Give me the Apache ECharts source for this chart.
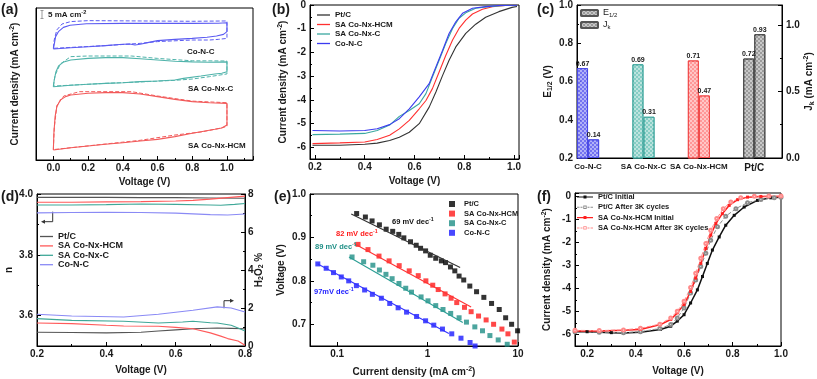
<!DOCTYPE html>
<html><head><meta charset="utf-8">
<script src="https://cdn.jsdelivr.net/npm/echarts@6.0.0/dist/echarts.min.js"></script>
<style>html,body{margin:0;padding:0;background:#fff}#c{width:817px;height:379px}</style>
</head><body><div id="c"></div>
<script>
// ---------- (a) CV loops (voltage V, offset current mA cm-2) ----------
const aCoNC = [[0,69.4],[0.006,72.9],[0.013,77.1],[0.029,80.2],[0.058,82.9],[0.096,84.2],[0.19,85.2],[0.4,85.4],[0.6,85.4],[0.8,85.4],[0.95,85.5],[1.0,85.8],[1.0,80.2],[0.996,79.6],[0.98,78.5],[0.94,77.5],[0.885,76.7],[0.8,76.0],[0.7,75.4],[0.6,74.6],[0.55,73.5],[0.5,72.3],[0.47,71.9],[0.44,72.5],[0.4,72.3],[0.3,71.5],[0.2,70.8],[0.1,70.2],[0,69.4]];
const aCoNCd = [[0,70.2],[0.005,75],[0.02,81.3],[0.05,85],[0.1,86.5],[0.2,87.1],[0.5,86.9],[0.8,86.7],[1.0,86.9],[1.0,76],[0.95,75.4],[0.9,75],[0.8,75],[0.6,74],[0.5,72.9],[0.3,71.5],[0,69.8]];
const aNxC = [[0,45.8],[0.005,50],[0.015,55.2],[0.03,58.8],[0.06,61.3],[0.1,62.5],[0.2,63.5],[0.3,64],[0.4,64],[0.5,63.3],[0.6,62.5],[0.7,61.7],[0.8,61.3],[0.9,61.1],[1.0,61.3],[1.0,55.2],[0.99,54.6],[0.97,54.2],[0.93,53.75],[0.85,52.5],[0.75,51],[0.7,50],[0.6,49.4],[0.5,49],[0.4,48.3],[0.3,47.9],[0.2,47.3],[0.1,46.7],[0,45.8]];
const aNxCd = [[0,46.2],[0.01,53],[0.04,60],[0.1,64.6],[0.2,65],[0.45,65],[0.6,63.5],[0.8,62],[1.0,61.9],[1.0,53.8],[0.9,52.1],[0.8,50.6],[0.7,49.8],[0.5,48.8],[0.3,47.9],[0,46.2]];
const aHCM = [[0,6.25],[0.003,16.7],[0.01,27.1],[0.02,33.3],[0.04,37.5],[0.07,39.6],[0.1,40.6],[0.2,41.7],[0.3,42.1],[0.4,42.1],[0.5,41.25],[0.6,39.6],[0.7,37.9],[0.8,36.5],[0.9,35.8],[1.0,35.4],[1.0,21.9],[0.99,20.8],[0.97,20],[0.93,19.2],[0.85,17.7],[0.8,16.7],[0.7,14.6],[0.6,12.9],[0.5,11.9],[0.4,10.8],[0.3,9.8],[0.2,8.75],[0.1,7.7],[0,6.25]];
const aHCMd = [[0,6.5],[0.005,20],[0.02,34],[0.06,40],[0.15,42.7],[0.45,42.7],[0.6,40],[0.8,36.8],[1.0,35.8],[1.0,21],[0.95,19.6],[0.85,17.5],[0.7,15.6],[0.5,12.3],[0.3,10],[0,6.5]];

// ---------- (b) LSV ----------
const bPt = [[0.19,-5.92],[0.3,-5.92],[0.4,-5.88],[0.45,-5.83],[0.5,-5.72],[0.539,-5.58],[0.579,-5.37],[0.619,-5.01],[0.659,-4.31],[0.686,-3.67],[0.713,-2.97],[0.739,-2.33],[0.766,-1.77],[0.806,-1.2],[0.846,-0.81],[0.886,-0.52],[0.939,-0.28],[0.992,-0.10],[1.012,-0.06]];
const bHCM = [[0.19,-5.85],[0.3,-5.82],[0.4,-5.78],[0.45,-5.68],[0.5,-5.5],[0.539,-5.23],[0.579,-4.87],[0.619,-4.38],[0.646,-4.03],[0.672,-3.53],[0.699,-2.83],[0.726,-2.12],[0.753,-1.48],[0.779,-0.99],[0.806,-0.64],[0.833,-0.38],[0.873,-0.18],[0.913,-0.07],[0.965,-0.02],[1.012,-0.01]];
const bNxC = [[0.19,-5.47],[0.3,-5.45],[0.4,-5.42],[0.45,-5.3],[0.5,-5.07],[0.539,-4.7],[0.579,-4.45],[0.619,-4.17],[0.646,-3.74],[0.672,-3.04],[0.699,-2.33],[0.726,-1.62],[0.753,-0.99],[0.779,-0.56],[0.806,-0.33],[0.846,-0.14],[0.899,-0.07],[0.965,-0.02],[1.012,-0.01]];
const bCoNC = [[0.19,-5.3],[0.3,-5.32],[0.4,-5.3],[0.45,-5.22],[0.5,-5.05],[0.539,-4.8],[0.579,-4.38],[0.619,-3.88],[0.659,-3.32],[0.686,-2.61],[0.713,-1.91],[0.739,-1.2],[0.766,-0.71],[0.793,-0.35],[0.833,-0.14],[0.886,-0.07],[0.939,-0.02],[1.012,-0.01]];

// ---------- (c) bars ----------
const cCats = ['Co-N-C','SA Co-Nx-C','SA Co-Nx-HCM','Pt/C'];
const cE12 = [0.67,0.69,0.71,0.72];
const cJk = [0.14,0.31,0.47,0.93];

// ---------- (d) n and H2O2 % ----------
const dnPt = [[0.2,3.989],[0.3,3.989],[0.4,3.989],[0.5,3.988],[0.6,3.988],[0.7,3.987],[0.8,3.986]];
const dnHCM = [[0.2,3.973],[0.3,3.973],[0.4,3.974],[0.5,3.975],[0.6,3.977],[0.65,3.979],[0.7,3.983],[0.75,3.988],[0.8,3.993]];
const dnNxC = [[0.2,3.964],[0.3,3.964],[0.4,3.965],[0.5,3.967],[0.6,3.966],[0.7,3.964],[0.73,3.963],[0.77,3.966],[0.8,3.969]];
const dnCoNC = [[0.2,3.938],[0.3,3.939],[0.4,3.940],[0.5,3.939],[0.6,3.937],[0.7,3.932],[0.75,3.931],[0.8,3.934]];
const dhPt = [[0.2,0.72],[0.3,0.71],[0.4,0.69],[0.5,0.72],[0.55,0.79],[0.6,0.85],[0.65,0.91],[0.72,0.95],[0.76,0.93],[0.8,0.91]];
const dhHCM = [[0.2,1.21],[0.3,1.18],[0.4,1.09],[0.45,1.05],[0.55,1.04],[0.6,0.98],[0.65,0.91],[0.7,0.69],[0.73,0.52],[0.75,0.39],[0.78,0.26],[0.8,0.04]];
const dhNxC = [[0.2,1.44],[0.3,1.35],[0.45,1.30],[0.55,1.21],[0.62,1.26],[0.65,1.3],[0.7,1.22],[0.72,1.21],[0.76,1.09],[0.78,0.95],[0.8,0.79]];
const dhCoNC = [[0.2,1.67],[0.3,1.58],[0.45,1.53],[0.55,1.67],[0.65,1.88],[0.72,2.06],[0.76,2.0],[0.8,1.79]];

// ---------- (e) Tafel ----------
const ePtJ = [0.164,0.205,0.243,0.293,0.348,0.411,0.480,0.546,0.647,0.748,0.836,0.950,1.07,1.23,1.42,1.58,1.79,2.0,2.23,2.51,2.93,3.48,4.19,5.1,6.2,7.3,8.5,9.9];
const ePtV = [0.955,0.947,0.938,0.929,0.919,0.914,0.907,0.899,0.890,0.882,0.875,0.869,0.859,0.852,0.846,0.842,0.832,0.823,0.811,0.802,0.788,0.775,0.762,0.748,0.734,0.715,0.700,0.685];
const eHCMJ = [0.170,0.219,0.290,0.375,0.485,0.626,0.788,0.957,1.14,1.31,1.56,1.82,2.10,2.56,3.03,3.66,4.44,5.37,6.64,7.74,9.1];
const eHCMV = [0.884,0.872,0.857,0.846,0.835,0.823,0.812,0.800,0.790,0.780,0.770,0.760,0.750,0.739,0.729,0.719,0.710,0.700,0.689,0.678,0.659];
const eNxCJ = [0.146,0.196,0.248,0.293,0.346,0.405,0.482,0.573,0.664,0.847,1.01,1.23,1.48,1.80,2.23,2.69,3.33,4.05,4.89,6.04,7.6];
const eNxCV = [0.855,0.844,0.836,0.825,0.815,0.805,0.794,0.783,0.774,0.763,0.754,0.743,0.734,0.725,0.715,0.705,0.694,0.685,0.674,0.664,0.654];
const eCoNCJ = [0.061,0.0755,0.091,0.111,0.134,0.163,0.201,0.245,0.308,0.381,0.472,0.585,0.755,0.950,1.17,1.46,1.85,2.34,2.95,3.35];
const eCoNCV = [0.839,0.829,0.819,0.809,0.800,0.789,0.779,0.769,0.760,0.748,0.738,0.728,0.718,0.708,0.698,0.689,0.678,0.668,0.658,0.650];
const eFitPt = [[0.143,0.954],[2.29,0.831]];
const eFitHCM = [[0.153,0.886],[3.03,0.740]];
const eFitNxC = [[0.135,0.855],[2.45,0.704]];
const eFitCoNC = [[0.061,0.839],[1.72,0.679]];

// ---------- (f) stability ----------
const fPtI = [[0.15,-5.88],[0.2,-5.88],[0.3,-5.92],[0.35,-5.93],[0.42,-5.9],[0.503,-5.78],[0.545,-5.64],[0.572,-5.42],[0.6,-5.14],[0.627,-4.63],[0.655,-4.06],[0.676,-3.48],[0.696,-2.91],[0.717,-2.33],[0.745,-1.76],[0.772,-1.25],[0.807,-0.82],[0.848,-0.46],[0.903,-0.17],[0.958,-0.06],[1.0,-0.03]];
const fPtA = [[0.15,-5.88],[0.25,-5.9],[0.35,-5.92],[0.42,-5.88],[0.5,-5.74],[0.545,-5.57],[0.572,-5.28],[0.6,-4.85],[0.627,-4.2],[0.648,-3.63],[0.669,-3.05],[0.69,-2.47],[0.71,-1.9],[0.738,-1.32],[0.772,-0.86],[0.814,-0.53],[0.862,-0.27],[0.917,-0.13],[0.972,-0.06],[1.0,-0.04]];
const fHI = [[0.15,-5.85],[0.25,-5.85],[0.35,-5.82],[0.42,-5.78],[0.503,-5.57],[0.545,-5.35],[0.572,-5.06],[0.6,-4.7],[0.627,-4.13],[0.648,-3.55],[0.669,-2.91],[0.69,-2.26],[0.71,-1.68],[0.731,-1.18],[0.758,-0.75],[0.786,-0.39],[0.821,-0.14],[0.862,-0.03],[0.917,0],[1.0,0]];
const fHA = [[0.15,-5.82],[0.25,-5.83],[0.35,-5.8],[0.42,-5.73],[0.5,-5.55],[0.545,-5.28],[0.572,-4.99],[0.6,-4.56],[0.627,-3.96],[0.648,-3.34],[0.669,-2.69],[0.69,-2.04],[0.71,-1.47],[0.735,-0.96],[0.762,-0.53],[0.793,-0.24],[0.834,-0.06],[0.89,0.01],[0.95,0.02],[1.0,0.02]];

// ================= chart =================
const F = 'Liberation Sans';
const INK = '#1a1a1a';
const zip = (xs, ys) => xs.map((x, i) => [x, ys[i]]);
const lab = (step, dec) => v => Math.abs(v / step - Math.round(v / step)) < 1e-6 ? v.toFixed(dec) : '';
const RICH = {
  m: {fontSize: 10, fontWeight: 'bold', fontFamily: F, color: INK},
  u: {fontSize: 7, fontWeight: 'bold', fontFamily: F, color: INK, padding: [0, 0, 6, 0]},
  s: {fontSize: 7, fontWeight: 'bold', fontFamily: F, color: INK, padding: [5, 0, 0, 0]}
};
function axis(o) {
  const base = {
    type: 'value',
    axisLine: {show: true, onZero: false, lineStyle: {color: '#000', width: 1}},
    axisTick: {show: true, inside: true, length: 4, lineStyle: {color: '#000'}},
    minorTick: {show: true, splitNumber: 2, length: 2, lineStyle: {color: '#000'}},
    splitLine: {show: false},
    nameLocation: 'middle',
    nameMoveOverlap: false,
    nameTextStyle: {color: INK, fontFamily: F, fontWeight: 'bold', fontSize: 10, rich: RICH}
  };
  const lbl = Object.assign({color: INK, fontFamily: F, fontWeight: 'bold', fontSize: 10, margin: 4}, o.axisLabel || {});
  const r = Object.assign(base, o);
  r.axisLabel = lbl;
  return r;
}
const gridBox = (l, t, w, h) => ({left: l, top: t, width: w, height: h, show: true, borderColor: '#000', borderWidth: 1, backgroundColor: 'transparent', outerBoundsMode: 'none', containLabel: false});

const line = (name, data, xi, yi, color, extra) => Object.assign({
  type: 'line', name, data, xAxisIndex: xi, yAxisIndex: yi, symbol: 'none', silent: true,
  lineStyle: {color, width: 1.1}, itemStyle: {color}, z: 3, animation: false
}, extra || {});
const dash = {type: 'dashed', width: 1};

const cFill = ['rgba(100,100,240,0.9)', 'rgba(120,200,190,0.9)', 'rgba(255,140,140,0.9)', 'rgba(150,150,150,0.95)'];
const cEdge = ['#4a4ae6', '#3fa79e', '#f04a4a', '#444'];
const decal = {symbol: 'rect', symbolSize: 1, dashArrayX: [[2, 2], [0, 2, 2, 0]], dashArrayY: [2, 0], color: 'rgba(255,255,255,0.45)'};
const barItems = (vals, off) => vals.map((v, i) => ({value: [i + off, v], itemStyle: {color: cFill[i], borderColor: cEdge[i], borderWidth: 1}}));
const barLabel = {show: true, position: 'top', distance: 1, fontSize: 7, fontWeight: 'bold', fontFamily: F, color: INK, formatter: p => p.value[1].toFixed(2)};

const pre = n => n.split(':')[1];
const legTxt = (fs) => ({fontSize: fs, fontWeight: 'bold', fontFamily: F, color: INK, lineHeight: 9});
// legend icons for panel (f): line with a marker in the middle (solid/filled, dashed/open)
const iconSolid = 'path://M0,1.4L16,1.4L16,2.6L0,2.6Z M6.5,0.5L9.5,0.5L9.5,3.5L6.5,3.5Z';
const iconDashed = 'path://M0,1.5L2.5,1.5L2.5,2.5L0,2.5Z M3.5,1.5L5.5,1.5L5.5,2.5L3.5,2.5Z M10.5,1.5L12.5,1.5L12.5,2.5L10.5,2.5Z M13.5,1.5L16,1.5L16,2.5L13.5,2.5Z M6.3,0.3L9.7,0.3L9.7,3.7L6.3,3.7Z M7.2,1.2L7.2,2.8L8.8,2.8L8.8,1.2Z';

const option = {
  animation: false,
  backgroundColor: '#fff',
  grid: [gridBox(36, 8, 217, 152), gridBox(310, 5, 209, 154), gridBox(577, 5, 205, 153),
         gridBox(37, 194, 208, 152), gridBox(310, 194, 208, 152), gridBox(575, 193, 206, 153)],
  xAxis: [
    axis({gridIndex: 0, min: -0.1, max: 1.15, splitNumber: 6, name: 'Voltage (V)', nameGap: 17, axisLabel: {formatter: lab(0.2, 1), margin: 3}}),
    axis({gridIndex: 1, min: 0.18, max: 1.02, name: 'Voltage (V)', nameGap: 17, axisLabel: {formatter: lab(0.2, 1), margin: 3}}),
    axis({gridIndex: 2, min: -0.2, max: 3.5, axisTick: {show: false}, minorTick: {show: false},
      axisLabel: {fontSize: 8, margin: 5, formatter: v => {
        const i = Math.round(v);
        if (Math.abs(v - i) > 1e-6 || i < 0 || i >= cCats.length) return '';
        return i === 3 ? '{big|' + cCats[i] + '}' : cCats[i];
      }, rich: {big: {fontSize: 10, fontWeight: 'bold', fontFamily: F, color: INK}}}}),
    axis({gridIndex: 3, min: 0.2, max: 0.8, interval: 0.2, name: 'Voltage (V)', nameGap: 19, axisLabel: {formatter: lab(0.2, 1), margin: 3}}),
    axis({gridIndex: 4, type: 'log', logBase: 10, min: 0.05, max: 10, minorTick: {show: false},
      name: '{m|Current density (mA cm}{u|-2}{m|)}', nameGap: 20,
      axisLabel: {margin: 3, formatter: v => { const l = Math.log10(v); return Math.abs(l - Math.round(l)) < 1e-6 ? String(+v.toPrecision(3)) : ''; }}}),
    axis({gridIndex: 5, min: 0.15, max: 1.0, name: 'Voltage (V)', nameGap: 20, axisLabel: {formatter: lab(0.2, 1), margin: 3}})
  ],
  yAxis: [
    axis({gridIndex: 0, min: 0, max: 95, axisLabel: {show: false}, axisTick: {show: false}, minorTick: {show: false},
      name: '{m|Current density (mA cm}{u|-2}{m|)}', nameGap: 14}),
    axis({gridIndex: 1, min: -6.5, max: 0, axisLabel: {formatter: lab(1, 0)},
      name: '{m|Current density (mA cm}{u|-2}{m|)}', nameGap: 20}),
    axis({gridIndex: 2, min: 0.2, max: 1.0, interval: 0.2, axisLabel: {formatter: lab(0.2, 1)},
      name: '{m|E}{s|1/2}{m| (V)}', nameGap: 23}),
    axis({gridIndex: 2, position: 'right', min: 0, max: 1.15, interval: 0.5, axisLabel: {formatter: lab(0.5, 1)},
      name: '{m|J}{s|k}{m| (mA cm}{u|-2}{m|)}', nameGap: 21}),
    axis({gridIndex: 3, min: 3.5, max: 4.0, splitNumber: 3, axisLabel: {formatter: lab(0.2, 1)},
      name: 'n', nameGap: 23}),
    axis({gridIndex: 3, position: 'right', min: 0, max: 8, interval: 2, axisLabel: {formatter: lab(2, 0), margin: 3},
      name: '{m|H}{s|2}{m|O}{s|2}{m| %}', nameGap: 8}),
    axis({gridIndex: 4, min: 0.65, max: 1.0, splitNumber: 4, axisLabel: {formatter: lab(0.1, 1)},
      name: 'Voltage (V)', nameGap: 24}),
    axis({gridIndex: 5, min: -6.5, max: 0.15, axisLabel: {formatter: lab(1, 0)},
      name: '{m|Current density (mA cm}{u|-2}{m|)}', nameGap: 21})
  ],
  legend: [
    {left: 317, top: 10.5, orient: 'vertical', padding: 0, icon: 'rect', itemWidth: 13, itemHeight: 1.3, itemGap: 0.5, selectedMode: false,
      textStyle: legTxt(8), formatter: pre, data: ['b:Pt/C', 'b:SA Co-Nx-HCM', 'b:SA Co-Nx-C', 'b:Co-N-C']},
    {left: 580, top: 8, orient: 'vertical', padding: 0, itemWidth: 17, itemHeight: 6, itemGap: 2, selectedMode: false,
      textStyle: {fontSize: 9, fontFamily: F, color: INK, lineHeight: 10, rich: {m: {fontSize: 9, fontFamily: F, color: INK}, s: {fontSize: 6, fontFamily: F, color: INK, padding: [4, 0, 0, 0]}}},
      formatter: n => n === 'c:E' ? '{m|E}{s|1/2}' : '{m|J}{s|k}', data: ['c:E', 'c:J']},
    {left: 40, top: 232, orient: 'vertical', padding: 0, icon: 'rect', itemWidth: 13, itemHeight: 1.3, itemGap: 0.4, selectedMode: false,
      textStyle: legTxt(9), formatter: pre, data: ['d:Pt/C', 'd:SA Co-Nx-HCM', 'd:SA Co-Nx-C', 'd:Co-N-C']},
    {left: 449, top: 199.5, orient: 'vertical', padding: 0, itemWidth: 6, itemHeight: 6, itemGap: 0.6, selectedMode: false,
      textStyle: Object.assign(legTxt(7.5), {padding: [0, 0, 0, 4]}), formatter: pre, data: ['e:Pt/C', 'e:SA Co-Nx-HCM', 'e:SA Co-Nx-C', 'e:Co-N-C']},
    {left: 577, top: 192.5, orient: 'vertical', padding: 0, itemWidth: 16, itemHeight: 4, itemGap: 1.3, selectedMode: false,
      textStyle: legTxt(7.5), formatter: pre,
      data: [{name: 'f:Pt/C Initial', icon: iconSolid}, {name: 'f:Pt/C After 3K cycles', icon: iconDashed},
             {name: 'f:SA Co-Nx-HCM Initial', icon: iconSolid}, {name: 'f:SA Co-Nx-HCM After 3K cycles', icon: iconDashed}]}
  ],
  series: [
    // (a)
    line('a:Co-N-C', aCoNC, 0, 0, '#5b5bf2'),
    line('a:Co-N-C dashed', aCoNCd, 0, 0, '#5b5bf2', {lineStyle: Object.assign({color: '#5b5bf2'}, dash)}),
    line('a:SA Co-Nx-C', aNxC, 0, 0, '#4fb3aa'),
    line('a:SA Co-Nx-C dashed', aNxCd, 0, 0, '#4fb3aa', {lineStyle: Object.assign({color: '#4fb3aa'}, dash)}),
    line('a:SA Co-Nx-HCM', aHCM, 0, 0, '#f25a5a'),
    line('a:SA Co-Nx-HCM dashed', aHCMd, 0, 0, '#f25a5a', {lineStyle: Object.assign({color: '#f25a5a'}, dash)}),
    // (b)
    line('b:Pt/C', bPt, 1, 1, '#333333'),
    line('b:SA Co-Nx-HCM', bHCM, 1, 1, '#ff3030'),
    line('b:SA Co-Nx-C', bNxC, 1, 1, '#3aa89f'),
    line('b:Co-N-C', bCoNC, 1, 1, '#3b3bf0'),
    // (c)
    {type: 'bar', name: 'c:E', xAxisIndex: 2, yAxisIndex: 2, barWidth: 11, barGap: '-100%', data: barItems(cE12, -0.1),
      itemStyle: {color: '#9a9a9a', borderColor: '#555', borderWidth: 1, decal}, label: barLabel, clip: true},
    {type: 'bar', name: 'c:J', xAxisIndex: 2, yAxisIndex: 3, barWidth: 11, barGap: '-100%', data: barItems(cJk, 0.1),
      itemStyle: {color: '#9a9a9a', borderColor: '#555', borderWidth: 1, decal}, label: barLabel, clip: true},
    // (d)
    line('d:Pt/C', dnPt, 3, 4, '#555555'),
    line('d:SA Co-Nx-HCM', dnHCM, 3, 4, '#ff5a5a'),
    line('d:SA Co-Nx-C', dnNxC, 3, 4, '#3fa898'),
    line('d:Co-N-C', dnCoNC, 3, 4, '#8a8af5'),
    line('d:Pt/C', dhPt, 3, 5, '#555555'),
    line('d:SA Co-Nx-HCM', dhHCM, 3, 5, '#ff5a5a'),
    line('d:SA Co-Nx-C', dhNxC, 3, 5, '#3fa898'),
    line('d:Co-N-C', dhCoNC, 3, 5, '#8a8af5'),
    // (e)
    {type: 'scatter', name: 'e:Pt/C', xAxisIndex: 4, yAxisIndex: 6, symbol: 'rect', symbolSize: 5, data: zip(ePtJ, ePtV), itemStyle: {color: '#000'}, silent: true},
    {type: 'scatter', name: 'e:SA Co-Nx-HCM', xAxisIndex: 4, yAxisIndex: 6, symbol: 'rect', symbolSize: 5, data: zip(eHCMJ, eHCMV), itemStyle: {color: '#ff1a1a'}, silent: true},
    {type: 'scatter', name: 'e:SA Co-Nx-C', xAxisIndex: 4, yAxisIndex: 6, symbol: 'rect', symbolSize: 5, data: zip(eNxCJ, eNxCV), itemStyle: {color: '#1f8f86'}, silent: true},
    {type: 'scatter', name: 'e:Co-N-C', xAxisIndex: 4, yAxisIndex: 6, symbol: 'rect', symbolSize: 5, data: zip(eCoNCJ, eCoNCV), itemStyle: {color: '#1a1aff'}, silent: true},
    line('e:fit Pt/C', eFitPt, 4, 6, '#333333'),
    line('e:fit SA Co-Nx-HCM', eFitHCM, 4, 6, '#ff3333'),
    line('e:fit SA Co-Nx-C', eFitNxC, 4, 6, '#2a9d94'),
    line('e:fit Co-N-C', eFitCoNC, 4, 6, '#3333ff'),
    // (f)
    line('f:Pt/C Initial', fPtI, 5, 7, '#111111', {symbol: 'rect', symbolSize: 3, showSymbol: true, lineStyle: {color: '#111', width: 1.5}}),
    line('f:Pt/C After 3K cycles', fPtA, 5, 7, '#8c8c8c', {symbol: 'emptyCircle', symbolSize: 3, showSymbol: true, lineStyle: {color: '#8c8c8c', width: 1, type: 'dashed'}}),
    line('f:SA Co-Nx-HCM Initial', fHI, 5, 7, '#ff2020', {symbol: 'rect', symbolSize: 3, showSymbol: true, lineStyle: {color: '#ff2020', width: 1.5}}),
    line('f:SA Co-Nx-HCM After 3K cycles', fHA, 5, 7, '#ff8a8a', {symbol: 'emptyCircle', symbolSize: 3, showSymbol: true, lineStyle: {color: '#ff8a8a', width: 1, type: 'dashed'}})
  ],
  graphic: (function () {
    const t = (x, y, text, size, color, extra) => ({type: 'text', x, y, silent: true, z: 10,
      style: Object.assign({text, fontSize: size, fontWeight: 'bold', fontFamily: F, fill: color || INK, verticalAlign: 'middle', align: 'left'}, extra || {})});
    const supRich = (size, color) => ({m: {fontSize: size, fontWeight: 'bold', fontFamily: F, color}, u: {fontSize: size * 0.7, fontWeight: 'bold', fontFamily: F, color, padding: [0, 0, size * 0.6, 0]}});
    const sup = (x, y, base, s, size, color) => t(x, y, '{m|' + base + '}{u|' + s + '}', size, color, {rich: supRich(size, color)});
    return [
      t(1, 10, '(a)', 14), t(272, 10, '(b)', 14), t(537, 10, '(c)', 14),
      t(1, 197, '(d)', 14), t(274, 197, '(e)', 14), t(537, 197, '(f)', 14),
      // (a) annotations
      t(187, 52, 'Co-N-C', 8), t(188, 89, 'SA Co-Nx-C', 8), t(188, 146, 'SA Co-Nx-HCM', 8),
      {type: 'line', silent: true, shape: {x1: 42, y1: 10.5, x2: 42, y2: 18.5}, style: {stroke: '#999', lineWidth: 1}},
      {type: 'line', silent: true, shape: {x1: 40.5, y1: 10.5, x2: 43.5, y2: 10.5}, style: {stroke: '#999', lineWidth: 1}},
      {type: 'line', silent: true, shape: {x1: 40.5, y1: 18.5, x2: 43.5, y2: 18.5}, style: {stroke: '#999', lineWidth: 1}},
      sup(48, 14.5, '5 mA cm', '-2', 8, INK),
      // (d) arrows
      {type: 'polyline', silent: true, shape: {points: [[52.7, 211.7], [52.7, 221.7], [44, 221.7]]}, style: {stroke: '#333', lineWidth: 1, fill: null}},
      {type: 'polygon', silent: true, shape: {points: [[41, 221.7], [45, 219.7], [45, 223.7]]}, style: {fill: '#333'}},
      {type: 'polyline', silent: true, shape: {points: [[224, 308.3], [224, 300.7], [231, 300.7]]}, style: {stroke: '#333', lineWidth: 1, fill: null}},
      {type: 'polygon', silent: true, shape: {points: [[234, 300.7], [230, 298.7], [230, 302.7]]}, style: {fill: '#333'}},
      // (e) slope labels
      sup(392, 222, '69 mV dec', '-1', 7.5, '#111'),
      sup(336, 234, '82 mV dec', '-1', 7.5, '#ff1a1a'),
      sup(315, 247, '89 mV dec', '-1', 7.5, '#1f8f86'),
      sup(314, 292, '97mV dec', '-1', 7.5, '#1a1aff')
    ];
  })()
};
const chart = echarts.init(document.getElementById('c'), null, {renderer: 'canvas', width: 817, height: 379});
chart.setOption(option);
</script></body></html>
